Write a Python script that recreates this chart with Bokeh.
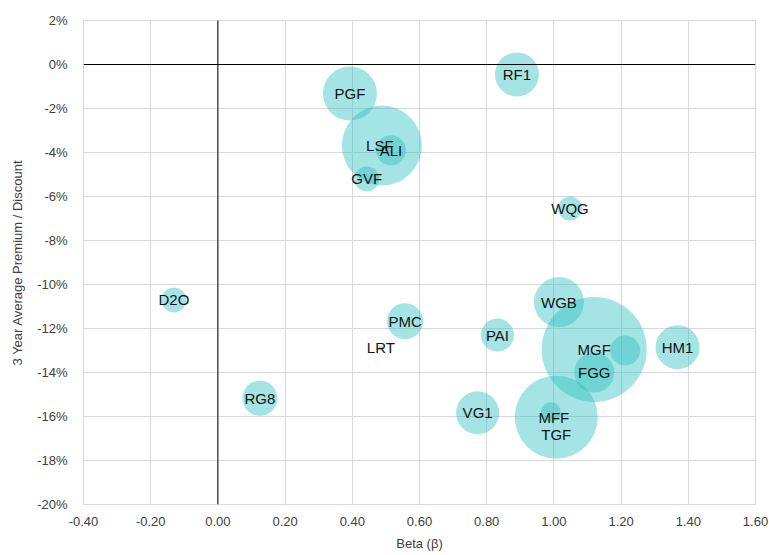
from bokeh.plotting import figure
from bokeh.models import ColumnDataSource, FixedTicker, NumeralTickFormatter, Span, Range1d
from bokeh.core.properties import value
from bokeh.embed import file_html
from bokeh.resources import INLINE

# Data
names = ["RF1", "PGF", "LSF", "ALI", "GVF", "WQG", "D2O", "PMC", "LRT", "RG8",
         "WGB", "PAI", "MGF", "", "FGG", "HM1", "VG1", "TGF", "MFF"]
beta = [0.89, 0.393, 0.488, 0.515, 0.443, 1.048, -0.131, 0.557, 0.485, 0.125,
        1.015, 0.832, 1.12, 1.212, 1.12, 1.368, 0.773, 1.007, 0.991]
premium = [-0.0045, -0.0132, -0.0368, -0.039, -0.052, -0.0655, -0.107, -0.1167, -0.1286, -0.1517,
           -0.108, -0.123, -0.1295, -0.130, -0.140, -0.1285, -0.1583, -0.1603, -0.158]
bubble_size = [44, 54, 80, 30, 25, 24, 25, 36, 4, 35,
               50, 33, 105, 30, 40, 44, 43, 83, 20]
label_dx = [0, 0, -2, 0, 0, 0, 0, 0, 0, 0, 0, 0, 0, 0, 0, 0, 0, 0, 3]
label_dy = [0, 0, 0, 0, 0, 0, 0, 0, 0, 0, 0, 0, 0, 0, 0, 0, 0, 17, 5]

x_ticks = [-0.4, -0.2, 0.0, 0.2, 0.4, 0.6, 0.8, 1.0, 1.2, 1.4, 1.6]
y_ticks = [0.02, 0.0, -0.02, -0.04, -0.06, -0.08, -0.10, -0.12, -0.14, -0.16, -0.18, -0.20]

src = ColumnDataSource(dict(x=beta, y=premium, name=names, size=bubble_size,
                            dx=label_dx, dy=label_dy))

FONT = "Liberation Sans"
p = figure(width=769, height=555, output_backend="svg", toolbar_location=None,
           x_range=Range1d(-0.4, 1.6), y_range=Range1d(-0.20, 0.02),
           min_border_left=83, min_border_top=20, min_border_right=14, min_border_bottom=51)

p.outline_line_color = "#d9d9d9"
for g in (p.xgrid, p.ygrid):
    g.grid_line_color = "#d9d9d9"
    g.grid_line_width = 1
p.xaxis.ticker = FixedTicker(ticks=x_ticks)
p.yaxis.ticker = FixedTicker(ticks=y_ticks)
p.xgrid.ticker = FixedTicker(ticks=x_ticks)
p.ygrid.ticker = FixedTicker(ticks=y_ticks)
p.xaxis.formatter = NumeralTickFormatter(format="0.00")
p.yaxis.formatter = NumeralTickFormatter(format="0%")

for ax in (p.xaxis, p.yaxis):
    ax.axis_line_color = None
    ax.major_tick_line_color = None
    ax.minor_tick_line_color = None
    ax.major_label_text_font = FONT
    ax.major_label_text_font_size = "13px"
    ax.major_label_text_color = "#404040"
    ax.axis_label_text_font = FONT
    ax.axis_label_text_font_size = "13px"
    ax.axis_label_text_font_style = "normal"
    ax.axis_label_text_color = "#404040"

p.xaxis.axis_label = "Beta (β)"
p.yaxis.axis_label = "3 Year Average Premium / Discount"
p.xaxis.major_label_standoff = 6
p.yaxis.major_label_standoff = 10
p.xaxis.axis_label_standoff = 7
p.yaxis.axis_label_standoff = 9

p.add_layout(Span(location=0, dimension="width", line_color="black", line_width=1))
p.add_layout(Span(location=0, dimension="height", line_color="black", line_width=1))

p.scatter(x="x", y="y", size="size", source=src, marker="circle",
          fill_color="#29bfbf", fill_alpha=0.42, line_color=None)

p.text(x="x", y="y", text="name", source=src, x_offset="dx", y_offset="dy",
       text_align="center", text_baseline="middle",
       text_font=value(FONT), text_font_size="15px", text_color="#111111")

open("out.html", "w").write(file_html(p, INLINE))
